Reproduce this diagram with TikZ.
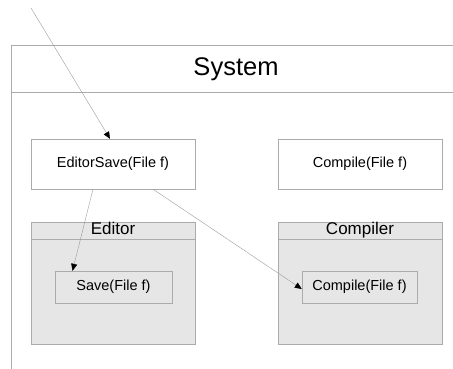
\documentclass[tikz,border=0pt]{standalone}
\usepackage{fontspec}
\setmainfont{Liberation Sans}
\usetikzlibrary{arrows.meta}

\definecolor{framegray}{HTML}{ABABAB}
\definecolor{linegray}{HTML}{9C9C9C}
\definecolor{pkgfill}{HTML}{E6E6E6}

\tikzset{
	opbox/.style={draw=framegray,fill=white,minimum width=164pt,minimum height=50pt,font=\fontsize{14.5}{16}\selectfont},
	innerop/.style={draw=framegray,fill=pkgfill,minimum height=32pt,font=\fontsize{14.5}{16}\selectfont},
	pkgbody/.style={draw=framegray,fill=pkgfill,minimum width=164pt,minimum height=122pt},
	pkghead/.style={draw=framegray,fill=pkgfill,minimum width=164pt,minimum height=17pt,inner sep=0pt,text height=12pt,text depth=3.5pt,font=\fontsize{17}{18}\selectfont},
	call/.style={draw=linegray,-{Triangle[length=7pt,width=6pt]},arrows={[black]}}
}

\begin{document}
\begin{tikzpicture}[x=1pt,y=-1pt]
	\useasboundingbox (0,0) rectangle (453,369);
	%System frame
		\draw [framegray] (453,45) -- (11,45) -- (11,369);
		\draw [framegray] (11,92) -- (453,92);
		\node (system) at (236,69) {\fontsize{25.5}{28}\selectfont System};
	%Top line
		%EditorSave
		\node [opbox] (esave) at (113,164) {EditorSave(File f)};
		%Compile
		\node [opbox] (compile) at (360,164) {Compile(File f)};
	%Bottom line
		%Editor package
		\node [pkgbody] (editor) at (113,283) {};
		\node [pkghead] (editorhead) at (113,230.5) {Editor};
		\node [innerop,minimum width=117pt] (save) at (113.5,287) {Save(File f)};
		%Compiler package
		\node [pkgbody] (compiler) at (360,283) {};
		\node [pkghead] (compilerhead) at (360,230.5) {Compiler};
		\node [innerop,minimum width=115pt] (cinner) at (359.5,287) {Compile(File f)};
	%Arrows
		\coordinate (entry) at (31,8);
		\draw [call] (entry) -- ([xshift=-3pt]esave.north);
		\draw [call] ([xshift=-20pt]esave.south) -- ([xshift=-41pt]save.north);
		\draw [call] ([xshift=40pt]esave.south) -- ([yshift=-2pt]cinner.west);
\end{tikzpicture}
\end{document}
